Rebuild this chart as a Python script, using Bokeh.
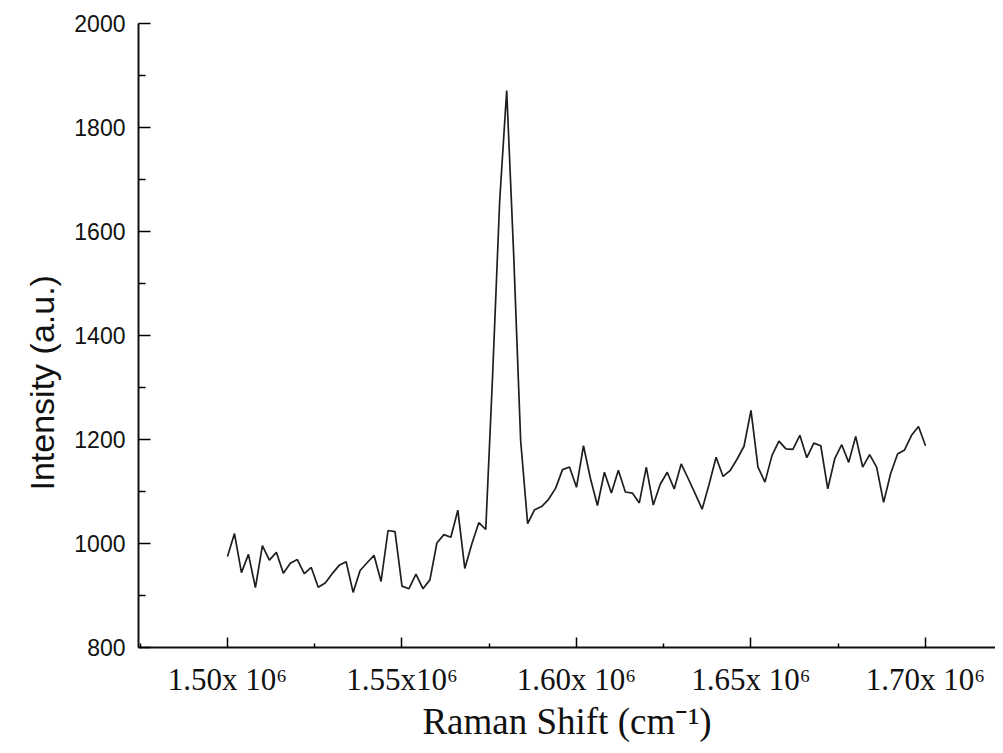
from bokeh.plotting import figure
from bokeh.models import FixedTicker, Range1d, Title
from bokeh.embed import file_html
from bokeh.resources import INLINE

raman_shift = [
    1500000, 1502000, 1504000, 1506000, 1508000, 1510000, 1512000, 1514000, 1516000, 1518000,
    1520000, 1522000, 1524000, 1526000, 1528000, 1530000, 1532000, 1534000, 1536000, 1538000,
    1540000, 1542000, 1544000, 1546000, 1548000, 1550000, 1552000, 1554000, 1556000, 1558000,
    1560000, 1562000, 1564000, 1566000, 1568000, 1570000, 1572000, 1574000, 1576000, 1578000,
    1580000, 1582000, 1584000, 1586000, 1588000, 1590000, 1592000, 1594000, 1596000, 1598000,
    1600000, 1602000, 1604000, 1606000, 1608000, 1610000, 1612000, 1614000, 1616000, 1618000,
    1620000, 1622000, 1624000, 1626000, 1628000, 1630000, 1632000, 1634000, 1636000, 1638000,
    1640000, 1642000, 1644000, 1646000, 1648000, 1650000, 1652000, 1654000, 1656000, 1658000,
    1660000, 1662000, 1664000, 1666000, 1668000, 1670000, 1672000, 1674000, 1676000, 1678000,
    1680000, 1682000, 1684000, 1686000, 1688000, 1690000, 1692000, 1694000, 1696000, 1698000,
    1700000,
]

intensity = [
    975, 1019, 944, 979, 915, 996, 968, 983, 943, 962,
    969, 942, 954, 916, 924, 942, 958, 965, 906, 948,
    963, 977, 927, 1025, 1023, 918, 913, 941, 913, 930,
    1001, 1017, 1012, 1064, 952, 999, 1040, 1027, 1329, 1660,
    1871, 1556, 1198, 1038, 1065, 1071, 1085, 1106, 1142, 1147,
    1108, 1188, 1125, 1073, 1137, 1097, 1141, 1099, 1097, 1078,
    1147, 1074, 1114, 1137, 1105, 1153, 1125, 1096, 1066, 1114,
    1166, 1129, 1140, 1162, 1187, 1256, 1147, 1118, 1169, 1197,
    1182, 1181, 1208, 1165, 1193, 1188, 1105, 1163, 1190, 1156,
    1206, 1147, 1171, 1147, 1079, 1134, 1172, 1180, 1208, 1225,
    1188,
]

x_ticks = [1500000, 1550000, 1600000, 1650000, 1700000]
x_tick_labels = ["1.50x 10\u2076", "1.55x10\u2076", "1.60x 10\u2076", "1.65x 10\u2076", "1.70x 10\u2076"]
x_minor = [1475000, 1525000, 1575000, 1625000, 1675000]
y_ticks = [800, 1000, 1200, 1400, 1600, 1800, 2000]
y_minor = [900, 1100, 1300, 1500, 1700, 1900]

p = figure(width=995, height=745, output_backend="svg", toolbar_location=None,
           x_range=Range1d(1474500, 1720060), y_range=Range1d(800, 2000),
           min_border_left=138, min_border_right=0, min_border_top=23, min_border_bottom=98)

p.line(raman_shift, intensity, line_color="#1e1e1e", line_width=1.7)

p.grid.visible = False
p.outline_line_color = None
p.background_fill_color = "white"
p.border_fill_color = "white"

xa = p.xaxis[0]
xa.ticker = FixedTicker(ticks=x_ticks, minor_ticks=x_minor)
xa.major_label_overrides = dict(zip(x_ticks, x_tick_labels))
xa.axis_label = "Raman Shift (cm\u207b\u00b9)"
xa.axis_label_text_font = "Liberation Serif"
xa.axis_label_text_font_size = "37px"
xa.axis_label_text_font_style = "normal"
xa.axis_label_text_color = "#111111"
xa.axis_label_standoff = 1
xa.major_label_text_font = "Liberation Serif"
xa.major_label_text_font_size = "31px"
xa.major_label_text_color = "#111111"
xa.major_label_standoff = 14
xa.major_tick_in = 10
xa.major_tick_out = 0
xa.minor_tick_in = 4
xa.minor_tick_out = 0
xa.axis_line_width = 2
xa.major_tick_line_width = 1.5
xa.minor_tick_line_width = 1.5
xa.axis_line_color = "#111111"

ya = p.yaxis[0]
ya.ticker = FixedTicker(ticks=y_ticks, minor_ticks=y_minor)
ya.major_label_text_font = "Liberation Sans"
ya.major_label_text_font_size = "23px"
ya.major_label_text_color = "#111111"
ya.major_label_standoff = 13
ya.major_tick_in = 12
ya.major_tick_out = 0
ya.minor_tick_in = 7
ya.minor_tick_out = 0
ya.axis_line_width = 2
ya.major_tick_line_width = 1.5
ya.minor_tick_line_width = 1.5
ya.axis_line_color = "#111111"

y_title = Title(text="Intensity (a.u.)", align="left", offset=157, standoff=22,
                text_font="Liberation Sans", text_font_size="34px",
                text_font_style="normal", text_color="#111111")
p.add_layout(y_title, "left")

open("out.html", "w").write(file_html(p, INLINE))
